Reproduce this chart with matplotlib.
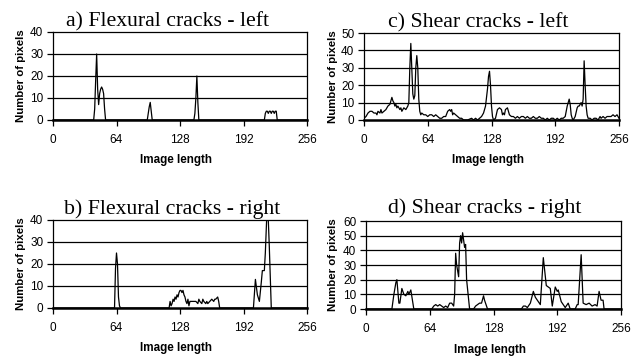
import matplotlib
matplotlib.use("Agg")
import matplotlib.pyplot as plt

# a) Flexural cracks - left
xa = [0, 41, 42, 43, 44, 45, 46, 47, 48, 49, 50, 51, 52, 53,
      95, 96, 97, 98, 99, 100, 142, 143, 144, 145, 146, 147,
      213, 214, 215, 216, 217, 218, 219, 220, 221, 222, 223, 224, 225, 226, 256]
ya = [0, 0, 5, 18, 30, 14, 7, 12, 14, 15, 14, 12, 5, 0,
      0, 3, 6, 8, 4, 0, 0, 3, 10, 20, 8, 0,
      0, 3, 4, 4, 3, 4, 4, 3, 4, 4, 3, 4, 4, 0, 0]

# c) Shear cracks - left
xc = [0, 2, 4, 6, 8, 10, 12, 13, 14, 16, 17, 18, 20, 22, 24, 26, 28, 29, 30, 31,
      32, 33, 34, 36, 37, 38, 40, 42, 44, 45, 46, 47, 48, 49, 50, 51, 52, 53, 54,
      55, 56, 57, 58, 60, 62, 64, 66, 68, 70, 72, 74, 76, 78, 80, 82, 84, 86, 87,
      88, 89, 90, 92, 94, 96, 98, 100, 104, 108, 110, 112, 114, 116, 118, 120,
      122, 124, 125, 126, 127, 128, 129, 130, 132, 134, 136, 138, 139, 140, 141,
      142, 144, 145, 146, 148, 150, 152, 154, 156, 158, 160, 162, 164, 166, 168,
      170, 172, 174, 176, 178, 180, 182, 184, 186, 188, 190, 192, 194, 196, 198,
      200, 202, 204, 206, 207, 208, 209, 210, 212, 214, 215, 216, 217, 218, 219,
      220, 221, 222, 223, 224, 225, 227, 229, 231, 233, 235, 237, 238, 240, 242,
      244, 246, 248, 250, 252, 254, 256]
yc = [1, 2, 4, 5, 5, 4, 4, 3, 5, 4, 6, 4, 5, 6, 8, 9, 13, 11, 10, 8,
      9, 7, 8, 6, 7, 5, 7, 6, 8, 10, 30, 44, 30, 15, 12, 14, 30, 37, 30,
      12, 5, 3, 4, 3, 3, 2, 3, 3, 2, 3, 2, 1, 1, 2, 2, 5, 6, 5,
      6, 3, 4, 3, 2, 1, 1, 0, 0, 1, 0, 1, 0, 1, 2, 4,
      8, 18, 25, 28, 20, 8, 2, 0, 1, 6, 7, 6, 3, 4, 3,
      6, 7, 5, 3, 2, 2, 1, 2, 1, 2, 2, 1, 2, 1, 1,
      2, 1, 1, 2, 1, 1, 0, 1, 0, 1, 1, 0, 1, 0, 1,
      1, 2, 8, 12, 9, 3, 1, 0, 2, 7, 8, 8, 9, 10, 8,
      12, 34, 20, 8, 3, 1, 1, 0, 1, 1, 0, 2, 1, 2, 1,
      2, 2, 2, 3, 2, 3, 1]

# b) Flexural cracks - right
xb = [0, 62, 63, 64, 65, 66, 67, 68,
      117, 118, 119, 120, 121, 122, 123, 124, 125, 126, 127, 128, 129, 130, 131,
      132, 133, 134, 135, 136, 137, 138, 140, 142, 144, 146, 147, 148, 150, 151,
      152, 154, 155, 156, 158, 160, 162, 163, 164, 166, 167, 168,
      202, 204, 206, 208, 210, 211, 213, 214, 216, 217, 218, 220, 256]
yb = [0, 0, 18, 25, 20, 5, 1, 0,
      0, 3, 1, 2, 4, 3, 5, 4, 6, 5, 7, 8, 8, 7, 8,
      6, 5, 3, 2, 4, 1, 3, 3, 3, 3, 2, 4, 3, 2, 4,
      3, 2, 3, 2, 3, 4, 3, 4, 4, 5, 3, 0,
      0, 13, 6, 3, 12, 17, 17, 25, 48, 40, 28, 0, 0]

# d) Shear cracks - right
xd = [0, 26, 28, 30, 31, 33, 34, 36, 38, 40, 42, 43, 45, 48,
      66, 68, 70, 72, 74, 76, 78, 80, 82, 84, 86, 88, 89, 90, 91, 93, 94, 95,
      96, 97, 99, 100, 101, 104,
      108, 110, 112, 114, 116, 118, 119, 122,
      156, 158, 160, 162, 165, 168, 170, 173, 175, 178, 181, 183, 185, 187, 190,
      192, 193, 196, 198, 200, 203, 205, 210, 212, 213, 216, 218, 221, 224, 227,
      230, 232, 234, 236, 238, 239, 256]
yd = [0, 0, 10, 18, 20, 4, 4, 14, 10, 9, 12, 10, 13, 0,
      0, 2, 3, 2, 3, 2, 1, 2, 1, 4, 4, 2, 10, 38, 30, 22, 45, 50,
      45, 52, 42, 44, 20, 0,
      0, 2, 3, 4, 4, 9, 6, 0,
      0, 2, 2, 1, 4, 12, 8, 5, 3, 35, 16, 15, 14, 2, 15,
      12, 13, 5, 3, 1, 4, 0, 0, 3, 3, 37, 4, 3, 4, 2,
      3, 2, 12, 6, 6, 0, 0]

xticks = [0, 64, 128, 192, 256]

W, H = 641, 356
fig = plt.figure(figsize=(W / 100, H / 100), dpi=100)

sans = "Liberation Sans"
serif = "Liberation Serif"

panels = [
    # data, ymax, ystep, axes box (left, top, right, bottom px), title, title centre/baseline, ylabel x, xlabel y
    (xa, ya, 40, 10, (53, 32, 307, 120), "a) Flexural cracks - left", (168, 26), 21, 160),
    (xc, yc, 50, 10, (364, 33, 619, 120), "c) Shear cracks - left", (478, 27), 333, 160),
    (xb, yb, 40, 10, (53, 220, 307, 308), "b) Flexural cracks - right", (172, 214), 21, 348),
    (xd, yd, 60, 10, (366, 221, 621, 309), "d) Shear cracks - right", (485, 213), 333, 350),
]

for x, y, ymax, ystep, box, title, tpos, ylx, xly in panels:
    l, t, r, b = box
    ax = fig.add_axes([l / W, 1 - b / H, (r - l) / W, (b - t) / H])
    ax.plot(x, y, color="black", lw=0.9, zorder=3)
    ax.set_xlim(0, 256)
    ax.set_ylim(0, ymax)
    ax.set_xticks(xticks)
    ax.set_yticks(list(range(0, ymax + 1, ystep)))
    for yv in range(ystep, ymax, ystep):
        ax.axhline(yv, color="black", lw=0.9, zorder=1)
    for s in ax.spines.values():
        s.set_color("black")
        s.set_linewidth(0.9)
    ax.spines["bottom"].set_linewidth(1.8)
    ax.tick_params(axis="both", direction="out", length=4, width=0.9,
                   labelsize=8.5, colors="black")
    ax.tick_params(axis="x", pad=6)
    ax.tick_params(axis="y", pad=3)
    for lab in ax.get_xticklabels() + ax.get_yticklabels():
        lab.set_fontfamily(sans)
    fig.text(tpos[0] / W, 1 - tpos[1] / H, title, ha="center", va="baseline",
             fontsize=15.7, family=serif)
    fig.text(ylx / W, 1 - ((t + b) / 2) / H, "Number of pixels", rotation=90,
             ha="center", va="center", fontsize=8.2, fontweight="bold", family=sans)
    fig.text(((l + r) / 2 - 4) / W, 1 - xly / H, "Image length", ha="center",
             va="center", fontsize=8.4, fontweight="bold", family=sans)

fig.savefig("out.png", dpi=100)
